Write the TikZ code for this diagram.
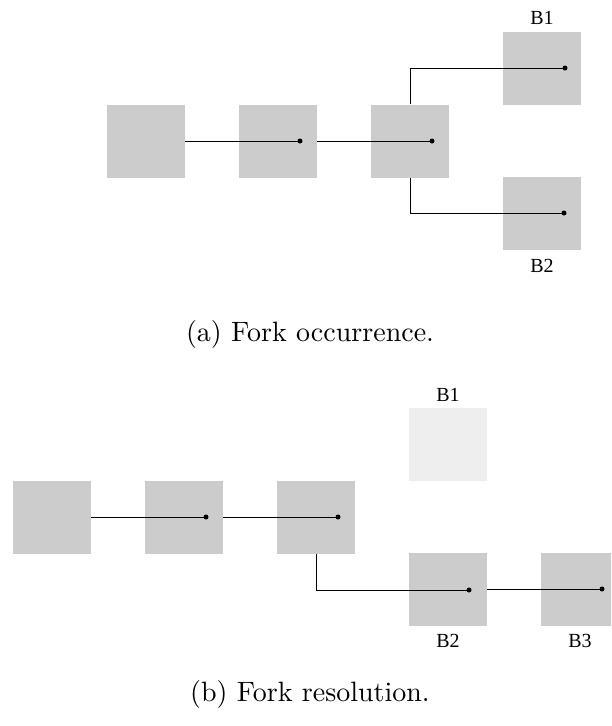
\documentclass[tikz,border=0pt]{standalone}
\usepackage{fontspec}
\newfontfamily\tms{Liberation Serif}
\usetikzlibrary{calc}
\definecolor{blkgray}{HTML}{CCCCCC}
\definecolor{ghostgray}{HTML}{EEEEEE}
\tikzset{
  blk/.style={rectangle, fill=blkgray, draw=none, minimum width=78pt, minimum height=73pt, inner sep=0pt},
  ghost/.style={blk, fill=ghostgray},
  lbl/.style={font=\tms\fontsize{20}{22}\selectfont, inner sep=0pt},
  captext/.style={font=\normalsize, inner sep=0pt, scale=2.8},
  link/.style={line width=0.9pt, black},
  dotm/.style={circle, fill=black, inner sep=0pt, minimum size=5pt}
}
\begin{document}
\begin{tikzpicture}[x=1pt, y=-1pt]
\useasboundingbox (0,0) rectangle (611,726);
\clip (0,0) rectangle (611,726);
% (a)
\node[blk] (a1) at (146,141) {};
\node[blk] (a2) at (278,141) {};
\node[blk] (a3) at (410,141) {};
\node[blk] (aB1) at (542,68) {};
\node[blk] (aB2) at (542,213) {};
\node[lbl] (laB1) at (542,18) {B1};
\node[lbl] (laB2) at (542,266) {B2};
\coordinate (da2) at (300,141);
\coordinate (da3) at (432,141);
\coordinate (daB1) at (565,68);
\coordinate (daB2) at (564,213);
\draw[link] (a1.east) -- (da2);
\draw[link] (a2.east) -- (da3);
\draw[link] (a3.north) |- (daB1);
\draw[link] (a3.south) |- (daB2);
\foreach \d in {da2,da3,daB1,daB2} \node[dotm] at (\d) {};
\node[captext] (capa) at (310,334) {(a) Fork occurrence.};
% (b)
\node[blk] (b1) at (52,517) {};
\node[blk] (b2) at (184,517) {};
\node[blk] (b3) at (316,517) {};
\node[ghost] (bB1) at (448,444) {};
\node[blk] (bB2) at (448,589) {};
\node[blk] (bB3) at (580,589) {};
\node[lbl] (lbB1) at (448,395) {B1};
\node[lbl] (lbB2) at (448,641) {B2};
\node[lbl] (lbB3) at (580,641) {B3};
\coordinate (db2) at (206,517);
\coordinate (db3) at (338,517);
\coordinate (dbB2) at (469,590);
\coordinate (dbB3) at (602,589);
\draw[link] (b1.east) -- (db2);
\draw[link] (b2.east) -- (db3);
\draw[link] (b3.south) |- (dbB2);
\draw[link] (bB2.east) -- (dbB3);
\foreach \d in {db2,db3,dbB2,dbB3} \node[dotm] at (\d) {};
\node[captext] (capb) at (310,694) {(b) Fork resolution.};
\end{tikzpicture}
\end{document}
